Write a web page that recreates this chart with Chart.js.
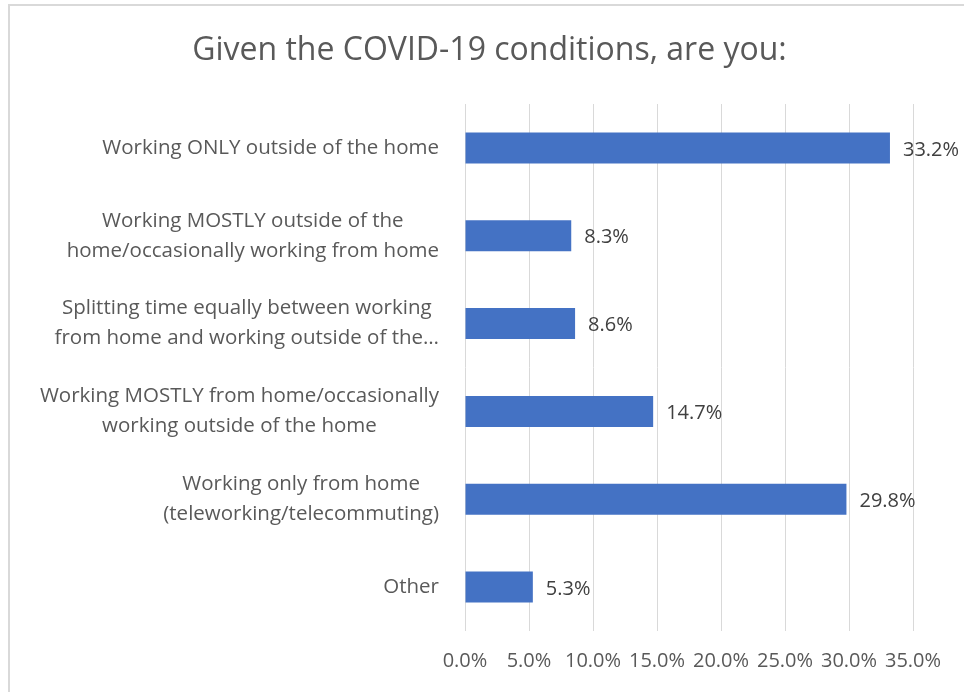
<!DOCTYPE html>
<html>
<head>
<meta charset="utf-8">
<script src="https://cdn.jsdelivr.net/npm/chart.js@4.4.0/dist/chart.umd.min.js"></script>
<style>
    html, body { margin: 0; padding: 0; background: #fff; }
    #wrap {
        position: absolute;
        left: 8px; top: 4px;
        width: 956px; height: 688px;
        border-top: 2px solid #d9d9d9;
        border-left: 2px solid #d9d9d9;
    }
    #box { position: absolute; left: 0; top: 0; width: 964px; height: 692px; }
</style>
</head>
<body>
<div id="wrap"></div>
<div id="box"><canvas id="chart" width="964" height="692"></canvas></div>
<script>
const chartTitle = 'Given the COVID-19 conditions, are you:';
const categories = [
    ['Working ONLY outside of the home'],
    ['Working MOSTLY outside of the', 'home/occasionally working from home'],
    ['Splitting time equally between working', 'from home and working outside of the\u2026'],
    ['Working MOSTLY from home/occasionally', 'working outside of the home'],
    ['Working only from home', '(teleworking/telecommuting)'],
    ['Other']
];
const shares = [33.2, 8.3, 8.6, 14.7, 29.8, 5.3];
const tickMin = 0;
const tickMax = 35;
const tickStep = 5;

const FONT = "'Open Sans', sans-serif";
const labelFont = '20.5px ' + FONT;

// title drawn by hand so Chart.js does not squeeze it into the plot width
const titleText = {
    id: 'titleText',
    afterDraw(chart) {
        const ctx = chart.ctx;
        ctx.save();
        ctx.font = '32px ' + FONT;
        ctx.fillStyle = '#595959';
        ctx.textAlign = 'center';
        ctx.textBaseline = 'alphabetic';
        ctx.fillText(chartTitle, 489.5, 60);
        ctx.restore();
    }
};

// labels beside the y axis: each block right aligned, lines centred inside the block
const categoryLabels = {
    id: 'categoryLabels',
    afterDraw(chart) {
        const ctx = chart.ctx;
        const y = chart.scales.y;
        const right = 439;
        const lineGap = 30;
        ctx.save();
        ctx.font = labelFont;
        ctx.fillStyle = '#595959';
        ctx.textAlign = 'center';
        ctx.textBaseline = 'middle';
        categories.forEach((lines, i) => {
            const w = Math.max(...lines.map(l => ctx.measureText(l).width));
            const cx = right - w / 2;
            const cy = y.getPixelForTick(i);
            const top = cy - (lines.length - 1) * lineGap / 2;
            lines.forEach((l, k) => ctx.fillText(l, cx, top + k * lineGap));
        });
        ctx.restore();
    }
};

const valueLabels = {
    id: 'valueLabels',
    afterDatasetsDraw(chart) {
        const ctx = chart.ctx;
        const meta = chart.getDatasetMeta(0);
        ctx.save();
        ctx.font = '20px ' + FONT;
        ctx.fillStyle = '#404040';
        ctx.textAlign = 'left';
        ctx.textBaseline = 'middle';
        meta.data.forEach((bar, i) => {
            ctx.fillText(shares[i].toFixed(1) + '%', bar.x + 13, bar.y + 2);
        });
        ctx.restore();
    }
};

new Chart(document.getElementById('chart'), {
    type: 'bar',
    data: {
        labels: categories.map(c => c.join(' ')),
        datasets: [{
            data: shares,
            backgroundColor: '#4472c4',
            borderWidth: 0,
            categoryPercentage: 1,
            barPercentage: 0.353
        }]
    },
    options: {
        indexAxis: 'y',
        responsive: false,
        animation: false,
        layout: { padding: { left: 465, right: 51, top: 104, bottom: 0 } },
        plugins: {
            legend: { display: false },
            tooltip: { enabled: false },
            title: { display: false }
        },
        scales: {
            x: {
                min: tickMin,
                max: tickMax,
                border: { display: false },
                grid: { color: '#d9d9d9', lineWidth: 1, drawTicks: false },
                ticks: {
                    stepSize: tickStep,
                    padding: 18.5,
                    color: '#595959',
                    font: { family: FONT, size: 20 },
                    callback: v => v.toFixed(1) + '%'
                }
            },
            y: {
                display: false
            }
        }
    },
    plugins: [titleText, categoryLabels, valueLabels]
});
</script>
</body>
</html>
